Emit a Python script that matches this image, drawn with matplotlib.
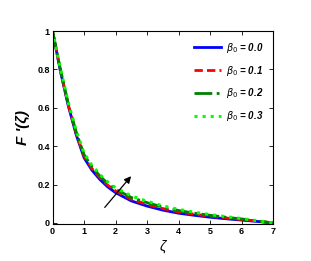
import numpy as np
import matplotlib
matplotlib.use("Agg")
import matplotlib.pyplot as plt

# data
zeta = [0, 0.25, 0.5, 0.75, 1, 1.25, 1.5, 1.75, 2, 2.5, 3, 3.5, 4, 4.5, 5, 5.5, 6, 6.5, 7]
f_b00 = [1.0, 0.79, 0.61, 0.46, 0.34, 0.275, 0.227, 0.188, 0.158, 0.115, 0.088, 0.067, 0.051, 0.04, 0.03, 0.022, 0.015, 0.008, 0.0]
f_b01 = [1.0, 0.795, 0.615, 0.467, 0.348, 0.284, 0.236, 0.197, 0.167, 0.124, 0.097, 0.075, 0.058, 0.046, 0.035, 0.026, 0.018, 0.01, 0.0]
f_b02 = [1.0, 0.80, 0.62, 0.474, 0.356, 0.293, 0.245, 0.206, 0.176, 0.133, 0.106, 0.083, 0.065, 0.051, 0.04, 0.03, 0.021, 0.011, 0.0]
f_b03 = [1.0, 0.805, 0.627, 0.482, 0.364, 0.301, 0.253, 0.214, 0.184, 0.141, 0.113, 0.089, 0.071, 0.056, 0.044, 0.033, 0.023, 0.012, 0.0]
labels = ["0.0", "0.1", "0.2", "0.3"]

plt.rcParams['font.family'] = ['Liberation Sans', 'DejaVu Sans']

fig = plt.figure(figsize=(3.11, 2.61), dpi=100)
ax = fig.add_axes([0.169, 0.142, 0.709, 0.739])

ax.plot(zeta, f_b00, color='#0000ff', ls='-', lw=2, label=r'$\beta_0$ = ' + labels[0])
ax.plot(zeta, f_b01, color='#ff0000', ls='--', lw=2, dashes=(3, 1.5), label=r'$\beta_0$ = ' + labels[1])
ax.plot(zeta, f_b02, color='#008000', ls='-.', lw=2, label=r'$\beta_0$ = ' + labels[2])
ax.plot(zeta, f_b03, color='#00ff00', ls=':', lw=2.2, label=r'$\beta_0$ = ' + labels[3])

# arrow showing increasing beta
ax.annotate('', xy=(2.55, 0.255), xytext=(1.6, 0.07),
            arrowprops=dict(arrowstyle='-|>', color='black', lw=0.9, mutation_scale=10))

ax.set_xlim(0, 7)
ax.set_ylim(-0.005, 1.0)
ax.set_xticks(range(0, 8))
ax.set_yticks([0, 0.2, 0.4, 0.6, 0.8, 1])
ax.set_yticklabels(['0', '0.2', '0.4', '0.6', '0.8', '1'])
ax.tick_params(direction='in', top=True, right=True, length=3, width=0.6, labelsize=6.5, pad=2)
for lab in ax.get_xticklabels() + ax.get_yticklabels():
    lab.set_fontweight('bold')
for s in ax.spines.values():
    s.set_linewidth(0.8)

ax.set_xlabel('ζ', fontsize=10, style='italic', labelpad=3)
ax.set_ylabel("F '(ζ)", fontsize=11, fontweight='bold', style='italic', labelpad=5)

leg = ax.legend(loc='upper right', frameon=False, fontsize=7, handlelength=2.8,
                labelspacing=0.9, borderaxespad=0.6, handletextpad=0.5)
for t in leg.get_texts():
    t.set_fontweight('bold')
    t.set_fontstyle('italic')

fig.savefig('out.png', dpi=100)
